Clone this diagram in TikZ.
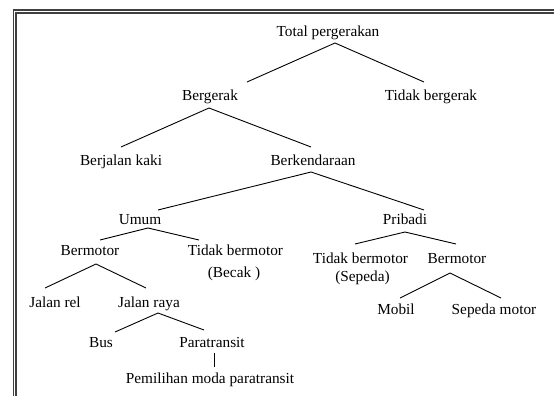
\documentclass[tikz,border=0pt]{standalone}
\usepackage{fontspec}
\setmainfont{Liberation Serif}
\usetikzlibrary{calc}
\begin{document}
\begin{tikzpicture}[x=1pt,y=-1pt,
  lbl/.style={anchor=base,inner sep=0pt,font=\fontsize{15.3}{18}\selectfont},
  conn/.style={line width=0.9pt,black},
  frame/.style={line width=1.2pt,black!75}]
\useasboundingbox (0,0) rectangle (554,396);
% frame
\draw[frame] (554,10) -- (13.3,10) -- (13.3,396);
\draw[frame] (554,13) -- (16,13) -- (16,396);
% nodes
\node[lbl] (tot) at (328,37) {Total pergerakan};
\node[lbl] (berg) at (210,100) {Bergerak};
\node[lbl] (tb) at (431,100) {Tidak bergerak};
\node[lbl] (bjk) at (121,165) {Berjalan kaki};
\node[lbl] (bkd) at (313,165) {Berkendaraan};
\node[lbl] (umum) at (140,224) {Umum};
\node[lbl] (pri) at (405,224) {Pribadi};
\node[lbl] (bmL) at (90,255) {Bermotor};
\node[lbl] (tbL1) at (235.5,255) {Tidak bermotor};
\node[lbl] (tbL2) at (234,277) {(Becak )};
\node[lbl] (jrel) at (55,307) {Jalan rel};
\node[lbl] (jraya) at (149,307) {Jalan raya};
\node[lbl] (bus) at (101,347) {Bus};
\node[lbl] (para) at (212,347) {Paratransit};
\node[lbl] (pem) at (210,383) {Pemilihan moda paratransit};
\node[lbl] (tbR1) at (360.5,263) {Tidak bermotor};
\node[lbl] (tbR2) at (362.5,281) {(Sepeda)};
\node[lbl] (bmR) at (457,263) {Bermotor};
\node[lbl] (mobil) at (396,314) {Mobil};
\node[lbl] (sm) at (494,314) {Sepeda motor};
% connectors
\draw[conn] ($(berg.base)+(37,-18)$) -- ($(tot.base)+(7,6)$) -- ($(tb.base)+(-7,-18)$);
\draw[conn] ($(bjk.base)+(0,-18)$) -- ($(berg.base)+(-1,8)$) -- ($(bkd.base)+(-2,-18)$);
\draw[conn] ($(umum.base)+(18,-14)$) -- ($(bkd.base)+(-2,7)$) -- ($(pri.base)+(19,-14)$);
\draw[conn] ($(bmL.base)+(10,-15)$) -- ($(umum.base)+(8,4)$) -- ($(tbL1.base)+(-36.5,-15)$);
\draw[conn] ($(jrel.base)+(-10,-19)$) -- ($(bmL.base)+(6,9)$) -- ($(jraya.base)+(-3,-19)$);
\draw[conn] ($(bus.base)+(14,-15)$) -- ($(jraya.base)+(9,6)$) -- ($(para.base)+(-8,-17)$);
\draw[conn] ($(para.base)+(2,6)$) -- ($(pem.base)+(4,-16)$);
\draw[conn] ($(tbR1.base)+(-5.5,-19)$) -- ($(pri.base)+(0,8)$) -- ($(bmR.base)+(-1,-19)$);
\draw[conn] ($(mobil.base)+(4,-16)$) -- ($(bmR.base)+(-7,10)$) -- ($(sm.base)+(7,-16)$);
\end{tikzpicture}
\end{document}
